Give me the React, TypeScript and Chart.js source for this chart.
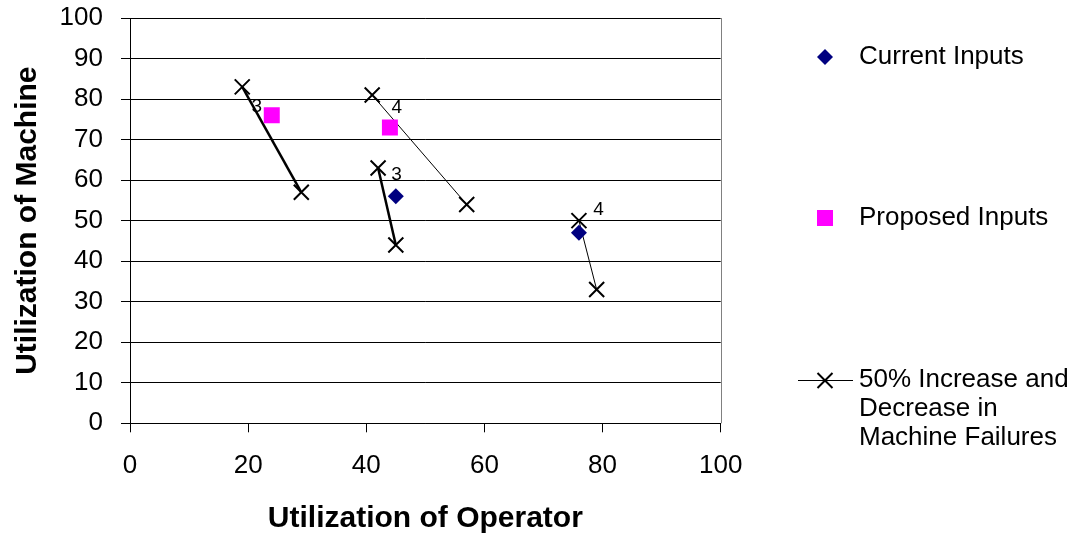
import React, { useEffect, useRef } from "react";
import { Chart, registerables } from "chart.js";

Chart.register(...registerables);

// ---- data ----
const currentX = [45, 76];
const currentY = [56, 47];
const proposedX = [24, 44];
const proposedY = [76, 73];
const failureStartX = [19, 41, 42, 76];
const failureStartY = [83, 81, 63, 50];
const failureEndX = [29, 57, 45, 79];
const failureEndY = [57, 54, 44, 33];
const failureLabels = ["3", "4", "3", "4"];
const legendCurrent = "Current Inputs";
const legendProposed = "Proposed Inputs";
const legendFailures = ["50% Increase and", "Decrease in", "Machine Failures"];
const xTitle = "Utilization of Operator";
const yTitle = "Utilization of Machine";

// ---- styles ----
const FONT = "'Liberation Sans', Arial, sans-serif";
const NAVY = "#000080";
const MAGENTA = "#FF00FF";
const segmentWidths = [2.5, 1, 2.5, 1];
const labelOffsets: [number, number][] = [
  [14.5, 19.5],
  [24.5, 13],
  [18.5, 7],
  [19.5, -11],
];

function drawDiamond(ctx: CanvasRenderingContext2D, x: number, y: number, r: number, color: string) {
  ctx.beginPath();
  ctx.moveTo(x - r, y);
  ctx.lineTo(x, y - r);
  ctx.lineTo(x + r, y);
  ctx.lineTo(x, y + r);
  ctx.closePath();
  ctx.fillStyle = color;
  ctx.fill();
}

const customPlugin = {
  id: "customDecor",
  beforeDatasetsDraw(chart: any) {
    const { ctx, chartArea } = chart;
    ctx.save();
    ctx.strokeStyle = "#808080";
    ctx.lineWidth = 1;
    const x = Math.round(chartArea.right) + 0.5;
    ctx.beginPath();
    ctx.moveTo(x, chartArea.top);
    ctx.lineTo(x, chartArea.bottom);
    ctx.stroke();
    ctx.restore();
  },
  afterDatasetsDraw(chart: any) {
    const { ctx } = chart;
    const xs = chart.scales.x;
    const ys = chart.scales.y;
    ctx.save();
    ctx.fillStyle = "#000";
    ctx.font = `19px ${FONT}`;
    ctx.textAlign = "center";
    ctx.textBaseline = "middle";
    failureLabels.forEach((lbl, i) => {
      const px = xs.getPixelForValue(failureStartX[i]);
      const py = ys.getPixelForValue(failureStartY[i]);
      ctx.fillText(lbl, px + labelOffsets[i][0], py + labelOffsets[i][1]);
    });
    ctx.restore();
  },
  afterDraw(chart: any) {
    const { ctx } = chart;
    ctx.save();
    const markerX = 825;
    const textX = 859;
    ctx.font = `26px ${FONT}`;
    ctx.textAlign = "left";
    ctx.textBaseline = "middle";
    ctx.fillStyle = "#000";

    // Current inputs
    drawDiamond(ctx, markerX, 57, 8, NAVY);
    ctx.fillStyle = "#000";
    ctx.fillText(legendCurrent, textX, 57);

    // Proposed inputs
    ctx.fillStyle = MAGENTA;
    ctx.fillRect(markerX - 8, 218 - 8, 16, 16);
    ctx.fillStyle = "#000";
    ctx.fillText(legendProposed, textX, 218);

    // Failures line
    ctx.strokeStyle = "#000";
    ctx.lineWidth = 1;
    ctx.beginPath();
    ctx.moveTo(798, 380.5);
    ctx.lineTo(853, 380.5);
    ctx.stroke();
    ctx.lineWidth = 2;
    const h = 7.5;
    ctx.beginPath();
    ctx.moveTo(markerX - h, 380.5 - h);
    ctx.lineTo(markerX + h, 380.5 + h);
    ctx.moveTo(markerX - h, 380.5 + h);
    ctx.lineTo(markerX + h, 380.5 - h);
    ctx.stroke();
    legendFailures.forEach((line, i) => {
      ctx.fillText(line, textX, 380 + i * 29);
    });
    ctx.restore();
  },
};

export default function App() {
  const canvasRef = useRef<HTMLCanvasElement | null>(null);

  useEffect(() => {
    if (!canvasRef.current) return;
    const datasets: any[] = [
      {
        label: legendCurrent,
        data: currentX.map((x, i) => ({ x, y: currentY[i] })),
        pointStyle: "rectRot",
        pointRadius: 8,
        pointBackgroundColor: NAVY,
        pointBorderColor: NAVY,
        pointBorderWidth: 0,
        showLine: false,
      },
      {
        label: legendProposed,
        data: proposedX.map((x, i) => ({ x, y: proposedY[i] })),
        pointStyle: "rect",
        pointRadius: 11.3,
        pointBackgroundColor: MAGENTA,
        pointBorderColor: MAGENTA,
        pointBorderWidth: 0,
        showLine: false,
      },
    ];
    failureStartX.forEach((sx, i) => {
      datasets.push({
        label: legendFailures.join(" "),
        data: [
          { x: sx, y: failureStartY[i] },
          { x: failureEndX[i], y: failureEndY[i] },
        ],
        showLine: true,
        borderColor: "#000",
        borderWidth: segmentWidths[i],
        pointStyle: "crossRot",
        pointRadius: 10.6,
        pointBorderColor: "#000",
        pointBorderWidth: 2,
        pointBackgroundColor: "#000",
        fill: false,
      });
    });

    const chart = new Chart(canvasRef.current, {
      type: "scatter",
      data: { datasets },
      options: {
        responsive: false,
        animation: false,
        events: [],
        layout: { padding: { left: 0, top: 18, right: 356.3, bottom: 0 } },
        plugins: {
          legend: { display: false },
          tooltip: { enabled: false },
        },
        scales: {
          x: {
            type: "linear",
            min: 0,
            max: 100,
            afterFit: (scale: any) => {
              scale.height = 116.7;
              scale.paddingLeft = 0;
              scale.paddingRight = 0;
            },
            ticks: {
              stepSize: 20,
              color: "#000",
              padding: 18,
              font: { family: FONT, size: 26 },
            },
            grid: {
              drawOnChartArea: false,
              drawTicks: true,
              tickLength: 9,
              color: "#000",
            },
            border: { color: "#000", width: 1 },
            title: {
              display: true,
              text: xTitle,
              color: "#000",
              font: { family: FONT, size: 30, weight: "bold" },
              padding: { top: 0, bottom: 3 },
            },
          },
          y: {
            type: "linear",
            min: 0,
            max: 100,
            afterFit: (scale: any) => {
              scale.width = 130;
              scale.paddingTop = 0;
              scale.paddingBottom = 0;
            },
            ticks: {
              stepSize: 10,
              color: "#000",
              padding: 18,
              font: { family: FONT, size: 26 },
            },
            grid: {
              drawOnChartArea: true,
              drawTicks: true,
              tickLength: 9,
              color: "#000",
            },
            border: { color: "#000", width: 1 },
            title: {
              display: true,
              text: yTitle,
              color: "#000",
              font: { family: FONT, size: 30, weight: "bold" },
              padding: { top: 10, bottom: 0 },
            },
          },
        },
      },
      plugins: [customPlugin],
    } as any);

    return () => {
      chart.destroy();
    };
  }, []);

  return (
    <div style={{ position: "fixed", left: 0, top: 0, width: 1077, height: 540, background: "#fff" }}>
      <canvas ref={canvasRef} width={1077} height={540} style={{ display: "block" }} />
    </div>
  );
}
